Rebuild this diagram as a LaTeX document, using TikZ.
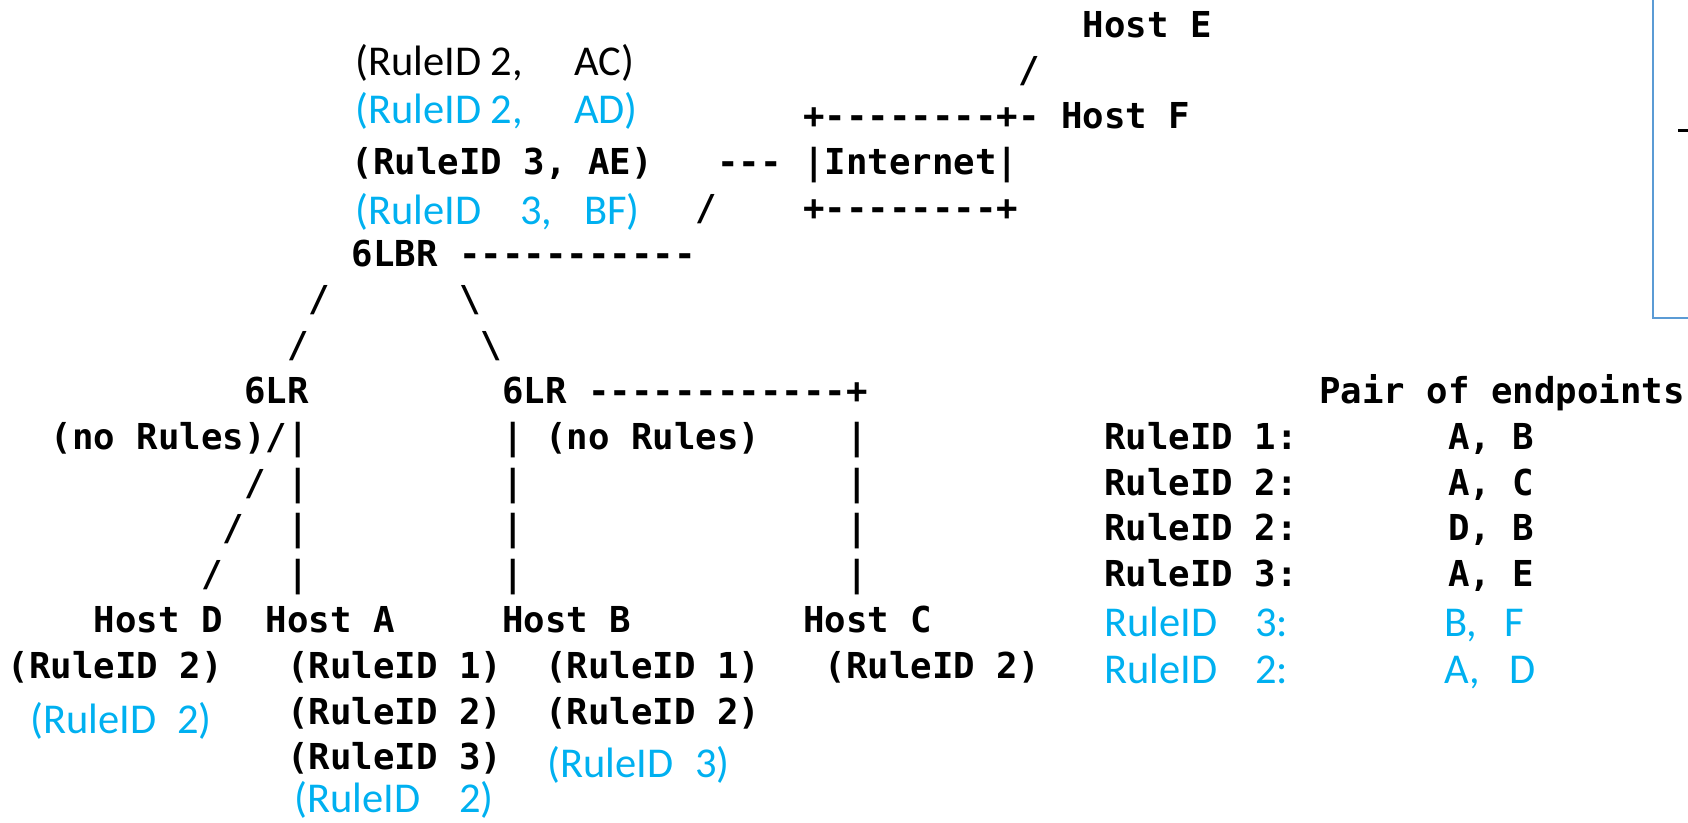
\documentclass[tikz,border=0pt]{standalone}
\usepackage{fontspec}
\setmainfont{Carlito}
\setmonofont{DejaVu Sans Mono}
\definecolor{skyb}{HTML}{00B0F0}
\definecolor{boxb}{HTML}{5B9BD5}
\newcommand\mt[4]{\node[mono] (#1) at ({7.5+#2*21.5},{37+#3*45.8}) {#4};}
\begin{document}
\begin{tikzpicture}[x=1pt,y=-1pt,
  mono/.style={font=\ttfamily\bfseries\fontsize{35.7}{40}\selectfont, inner sep=0pt, anchor=base west},
  cal/.style={font=\rmfamily\fontsize{42.5}{48}\selectfont, inner sep=0pt, anchor=base west},
  blu/.style={cal, text=skyb}]
\useasboundingbox (0,0) rectangle (1688,822);
% frame at the top right (cut off)
\draw[boxb, line width=2pt] (1653,-5) -- (1653,318) -- (1695,318);
\draw[line width=3pt] (1678,130) -- (1692,130);
% ASCII art (monospace)
\mt{hostE}{50}{0}{Host E}
\mt{slE}{47}{1}{/}
\mt{inetT}{37}{2}{+--------+-}
\mt{hostF}{49}{2}{Host F}
\mt{ae}{16}{3}{(RuleID 3, AE)}
\mt{dsh}{33}{3}{---}
\mt{inet}{37}{3}{|Internet|}
\mt{slB}{32}{4}{/}
\mt{inetB}{37}{4}{+--------+}
\mt{lbr}{16}{5}{6LBR}
\mt{lbrL}{21}{5}{-----------}
\mt{sa}{14}{6}{/}
\mt{sb}{21}{6}{\textbackslash}
\mt{sc}{13}{7}{/}
\mt{sd}{22}{7}{\textbackslash}
\mt{lrL}{11}{8}{6LR}
\mt{lrR}{23}{8}{6LR}
\mt{lrRl}{27}{8}{------------+}
\mt{nrL}{2}{9}{(no Rules)/|}
\mt{vB9}{23}{9}{|}
\mt{nrR}{25}{9}{(no Rules)}
\mt{vC9}{39}{9}{|}
\mt{sD10}{11}{10}{/}
\mt{vA10}{13}{10}{|}
\mt{vB10}{23}{10}{|}
\mt{vC10}{39}{10}{|}
\mt{sD11}{10}{11}{/}
\mt{vA11}{13}{11}{|}
\mt{vB11}{23}{11}{|}
\mt{vC11}{39}{11}{|}
\mt{sD12}{9}{12}{/}
\mt{vA12}{13}{12}{|}
\mt{vB12}{23}{12}{|}
\mt{vC12}{39}{12}{|}
\mt{hostD}{4}{13}{Host D}
\mt{hostA}{12}{13}{Host A}
\mt{hostB}{23}{13}{Host B}
\mt{hostC}{37}{13}{Host C}
\mt{dR2}{0}{14}{(RuleID 2)}
\mt{aR1}{13}{14}{(RuleID 1)}
\mt{bR1}{25}{14}{(RuleID 1)}
\mt{cR2}{38}{14}{(RuleID 2)}
\mt{aR2}{13}{15}{(RuleID 2)}
\mt{bR2}{25}{15}{(RuleID 2)}
\mt{aR3}{13}{16}{(RuleID 3)}
% table
\mt{pair}{61}{8}{Pair of endpoints}
\mt{t1}{51}{9}{RuleID 1:}
\mt{t1p}{67}{9}{A, B}
\mt{t2}{51}{10}{RuleID 2:}
\mt{t2p}{67}{10}{A, C}
\mt{t3}{51}{11}{RuleID 2:}
\mt{t3p}{67}{11}{D, B}
\mt{t4}{51}{12}{RuleID 3:}
\mt{t4p}{67}{12}{A, E}
% Calibri-like labels
\node[cal] (ac1) at (355,75) {(RuleID 2,};
\node[cal] (ac2) at (574,75) {AC)};
\node[blu] (ad1) at (355,123) {(RuleID 2,};
\node[blu] (ad2) at (574,123) {AD)};
\node[blu] (bf1) at (355,224) {(RuleID};
\node[blu] (bf2) at (520,224) {3,};
\node[blu] (bf3) at (584,224) {BF)};
\node[blu] (dB1) at (30,733) {(RuleID};
\node[blu] (dB2) at (177,733) {2)};
\node[blu] (aB1) at (294,812) {(RuleID};
\node[blu] (aB2) at (459,812) {2)};
\node[blu] (bB1) at (547,777) {(RuleID};
\node[blu] (bB2) at (695,777) {3)};
\node[blu] (t5) at (1104,636) {RuleID};
\node[blu] (t5n) at (1255,636) {3:};
\node[blu] (t5a) at (1444,636) {B,};
\node[blu] (t5b) at (1504,636) {F};
\node[blu] (t6) at (1104,683) {RuleID};
\node[blu] (t6n) at (1255,683) {2:};
\node[blu] (t6a) at (1444,683) {A,};
\node[blu] (t6b) at (1509,683) {D};
\end{tikzpicture}
\end{document}
